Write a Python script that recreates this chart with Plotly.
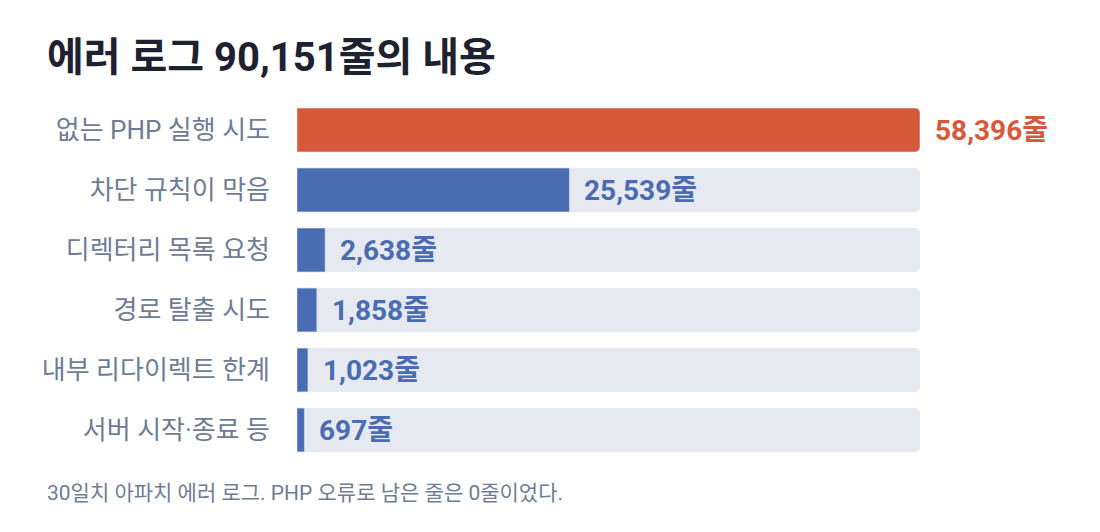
import plotly.graph_objects as go

categories = ["없는 PHP 실행 시도", "차단 규칙이 막음", "디렉터리 목록 요청",
              "경로 탈출 시도", "내부 리다이렉트 한계", "서버 시작·종료 등"]
line_counts = [58396, 25539, 2638, 1858, 1023, 697]
value_labels = ["58,396줄", "25,539줄", "2,638줄", "1,858줄", "1,023줄", "697줄"]

title_text = "에러 로그 90,151줄의 내용"
note_text = "30일치 아파치 에러 로그. PHP 오류로 남은 줄은 0줄이었다."

ORANGE = "#d6593b"
BLUE = "#4a6cb2"
TRACK = "#e6e9ef"
FONT = "Roboto, Noto Sans CJK KR, sans-serif"

track_max = max(line_counts)
bar_colors = [ORANGE if v == track_max else BLUE for v in line_counts]

fig = go.Figure()
fig.add_trace(go.Bar(y=categories, x=[track_max] * len(categories), orientation="h",
                     marker_color=TRACK, width=0.73, hoverinfo="skip", showlegend=False))
fig.add_trace(go.Bar(y=categories, x=line_counts, orientation="h",
                     marker_color=bar_colors, width=0.73, showlegend=False))

for cat, v, lab, col in zip(categories, line_counts, value_labels, bar_colors):
    fig.add_annotation(x=v, y=cat, text="<b>" + lab + "</b>", showarrow=False,
                       xanchor="left", xshift=13, font=dict(size=28, color=col, family=FONT))

# page has an 8px body margin, so the margins below are 8px less than the picture
fig.add_annotation(x=0, y=1, xref="paper", yref="paper", text="<b>" + title_text + "</b>",
                   showarrow=False, xanchor="left", yanchor="bottom", xshift=-252, yshift=17,
                   font=dict(size=40, color="#1e2230", family=FONT))
fig.add_annotation(x=0, y=0, xref="paper", yref="paper", text=note_text,
                   showarrow=False, xanchor="left", yanchor="top", xshift=-252, yshift=-19,
                   font=dict(size=21, color="#6e7d96", family=FONT))

fig.update_layout(
    width=1100, height=532,
    margin=dict(l=289, r=188, t=92, b=80),
    barmode="overlay", barcornerradius=5,
    paper_bgcolor="white", plot_bgcolor="white",
    font=dict(family=FONT),
    xaxis=dict(range=[0, track_max], visible=False, fixedrange=True),
    yaxis=dict(autorange="reversed", showgrid=False, zeroline=False, ticks="",
               ticklabelstandoff=26, tickfont=dict(size=26, color="#6e7d96", family=FONT),
               fixedrange=True),
)

fig.write_html("out.html")
